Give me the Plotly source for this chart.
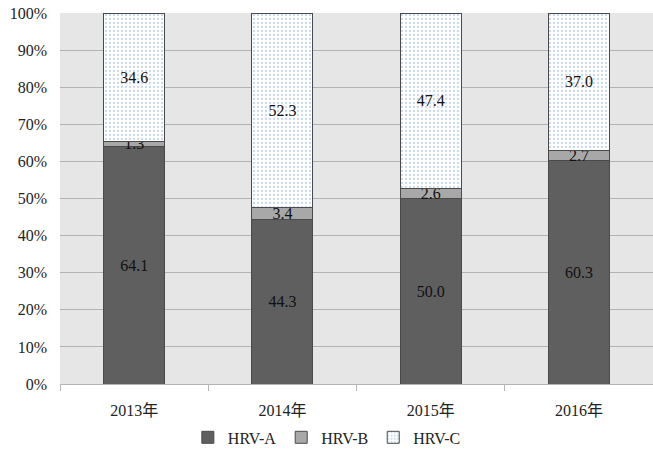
import plotly.graph_objects as go

years = ["2013年", "2014年", "2015年", "2016年"]
hrv_a = [64.1, 44.3, 50.0, 60.3]
hrv_b = [1.3, 3.4, 2.6, 2.7]
hrv_c = [34.6, 52.3, 47.4, 37.0]
y_ticks = [0, 10, 20, 30, 40, 50, 60, 70, 80, 90, 100]

FONT = "Liberation Serif, Noto Sans CJK JP, serif"
LABEL_FONT = dict(color="#111111", size=16, family=FONT)

fig = go.Figure()

fig.add_bar(
    x=years, y=hrv_a, name="HRV-A",
    marker=dict(color="#5f5f5f", line=dict(color="#4a4a4a", width=1)),
    text=[f"{v:.1f}" for v in hrv_a], textposition="inside",
    insidetextanchor="middle", textfont=LABEL_FONT,
)
fig.add_bar(
    x=years, y=hrv_b, name="HRV-B",
    marker=dict(color="#a8a8a8", line=dict(color="#4a4a4a", width=1)),
    text=[f"{v:.1f}" for v in hrv_b], textposition="inside",
    insidetextanchor="middle", textfont=LABEL_FONT,
    constraintext="none",
)
fig.add_bar(
    x=years, y=hrv_c, name="HRV-C",
    marker=dict(
        color="white",
        line=dict(color="#4a4a4a", width=1),
        pattern=dict(shape=".", fgcolor="#8fb0dd", bgcolor="white", size=4, solidity=0.25),
    ),
    text=[f"{v:.1f}" for v in hrv_c], textposition="inside",
    insidetextanchor="middle", textfont=LABEL_FONT,
)

fig.update_layout(
    barmode="stack",
    bargap=0.59,
    width=653, height=459,
    margin=dict(l=60, r=0, t=13, b=75, autoexpand=False),
    plot_bgcolor="#e6e6e6",
    paper_bgcolor="white",
    font=dict(family=FONT, size=16, color="#222222"),
    uniformtext=dict(mode="show", minsize=16),
    legend=dict(
        orientation="h", x=0.45, xanchor="center",
        yref="container", y=0.01, yanchor="bottom",
        font=dict(size=16, family=FONT), traceorder="normal",
        itemwidth=30, tracegroupgap=0,
    ),
    xaxis=dict(
        showgrid=False, ticks="outside", ticklen=6, tickcolor="#b5b5b5",
        tickson="boundaries", linecolor="#b5b5b5", showline=True,
        tickfont=dict(size=16, family=FONT), ticklabelstandoff=12,
    ),
    yaxis=dict(
        range=[0, 100], tickvals=y_ticks,
        ticktext=[f"{v}%" for v in y_ticks],
        gridcolor="#b3b3b3", gridwidth=1, zeroline=False,
        tickfont=dict(size=16, family=FONT), ticklabelstandoff=12,
    ),
)

fig.write_html(
    "out.html",
    post_script="document.body.style.margin='0';document.body.style.overflow='hidden';",
)
